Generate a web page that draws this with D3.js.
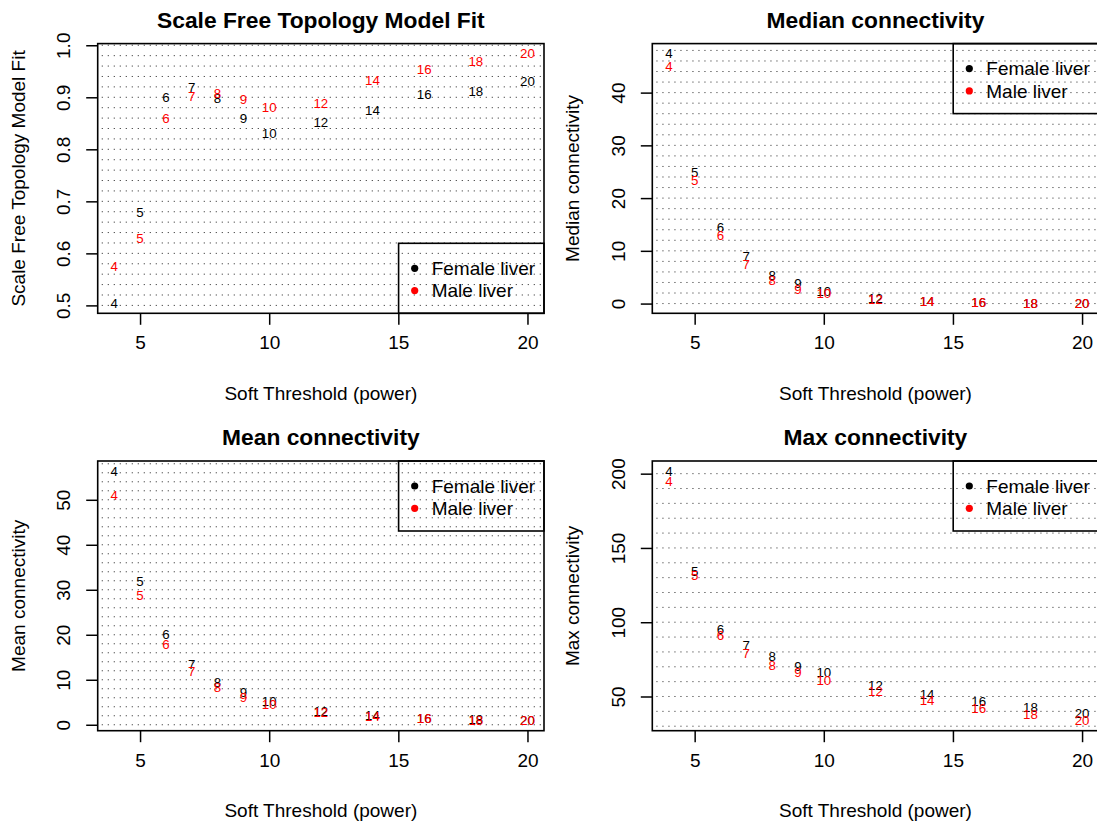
<!DOCTYPE html>
<html>
<head>
<meta charset="utf-8">
<script src="https://cdn.jsdelivr.net/npm/d3@7"></script>
<style>
  body { margin: 0; background: #fff; }
  text { font-family: "Liberation Sans", Arial, Helvetica, sans-serif; }
</style>
</head>
<body>
<script>
var powers = [4, 5, 6, 7, 8, 9, 10, 12, 14, 16, 18, 20];
var xTicks = [5, 10, 15, 20];
var seriesNames = ["Female liver", "Male liver"];
var seriesColors = ["#000000", "#ff0000"];

var fitFemale = [0.504, 0.68, 0.901, 0.920, 0.899, 0.859, 0.831, 0.852, 0.875, 0.906, 0.912, 0.931];
var fitMale = [0.576, 0.630, 0.860, 0.902, 0.908, 0.896, 0.881, 0.889, 0.932, 0.954, 0.970, 0.984];
var fitTicks = [0.5, 0.6, 0.7, 0.8, 0.9, 1.0];

var medianFemale = [47.4, 25.0, 14.4, 8.9, 5.4, 3.8, 2.4, 1.1, 0.5, 0.25, 0.12, 0.06];
var medianMale = [45.0, 23.4, 12.9, 7.5, 4.4, 2.8, 1.9, 0.9, 0.45, 0.2, 0.1, 0.05];
var medianTicks = [0, 10, 20, 30, 40];

var meanFemale = [56.4, 31.9, 20.1, 13.5, 9.4, 7.2, 5.3, 3.1, 2.2, 1.5, 1.2, 1.0];
var meanMale = [51.0, 28.9, 18.0, 12.0, 8.3, 6.1, 4.5, 2.8, 2.0, 1.35, 1.05, 0.9];
var meanTicks = [0, 10, 20, 30, 40, 50];

var maxFemale = [201.8, 134.3, 95.5, 84.6, 76.9, 70.6, 66.1, 57.9, 51.8, 46.8, 42.8, 38.9];
var maxMale = [195.1, 131.6, 91.2, 79.2, 71.3, 66.3, 60.9, 53.6, 47.5, 41.9, 37.8, 33.7];
var maxTicks = [50, 100, 150, 200];

var svg = d3.select("body")
  .append("svg")
  .attr("width", 1097)
  .attr("height", 825);

svg.append("rect").attr("width", 1097).attr("height", 825).attr("fill", "#fff");

// R style axis range: data range padded by 4% on each side
function rRange(vals) {
  var lo = d3.min(vals), hi = d3.max(vals);
  var pad = (hi - lo) * 0.04;
  return [lo - pad, hi + pad];
}

function drawPanel(opt) {
  var left = opt.left, top = opt.top, w = 446.3, h = 269.7;
  var g = svg.append("g");

  var x = d3.scaleLinear().domain(rRange(powers)).range([left, left + w]);
  var y = d3.scaleLinear().domain(rRange(opt.female.concat(opt.male))).range([top + h, top]);

  // dotted horizontal grid
  var yd = y.domain();
  var gridVals = d3.range(Math.ceil(yd[0] / opt.step - 1e-9), Math.floor(yd[1] / opt.step + 1e-9) + 1)
    .map(function(k) { return k * opt.step; });
  g.selectAll("line.grid")
    .data(gridVals)
    .enter()
    .append("line")
    .attr("x1", left + 4)
    .attr("x2", left + w)
    .attr("y1", function(d) { return y(d); })
    .attr("y2", function(d) { return y(d); })
    .attr("stroke", "#555")
    .attr("stroke-width", 1)
    .attr("stroke-dasharray", "1.3,4.7");

  // axes
  var xAxis = g.append("g")
    .attr("transform", "translate(0," + (top + h) + ")")
    .call(d3.axisBottom(x).tickValues(xTicks).tickSize(11.5).tickPadding(11).tickSizeOuter(0));
  xAxis.select(".domain").remove();
  xAxis.selectAll("line").attr("stroke-width", 1.5);
  xAxis.selectAll("text").attr("font-size", 19).attr("fill", "#000");

  var yAxis = g.append("g")
    .attr("transform", "translate(" + left + ",0)")
    .call(d3.axisLeft(y).tickValues(opt.ticks).tickSize(11.5).tickSizeOuter(0).tickFormat(opt.fmt));
  yAxis.select(".domain").remove();
  yAxis.selectAll("line").attr("stroke-width", 1.5);
  yAxis.selectAll("text")
    .attr("font-size", 19)
    .attr("fill", "#000")
    .attr("x", null)
    .attr("dy", null)
    .attr("text-anchor", "middle")
    .attr("transform", "translate(-34.3,0) rotate(-90)")
    .attr("dy", "0.35em");

  // legend
  var lw = 145.4, lh = 70;
  var lx = left + w - lw;
  var ly = opt.legend === "bottomright" ? top + h - lh : top;
  g.append("rect")
    .attr("x", lx).attr("y", ly).attr("width", lw).attr("height", lh)
    .attr("fill", "none").attr("stroke", "#000").attr("stroke-width", 1.6);
  var items = g.selectAll("g.leg")
    .data(seriesNames)
    .enter()
    .append("g")
    .attr("transform", function(d, i) { return "translate(" + lx + "," + (ly + 25 + i * 22.3) + ")"; });
  items.append("circle").attr("cx", 16.1).attr("cy", 0).attr("r", 3.6)
    .attr("fill", function(d, i) { return seriesColors[i]; });
  items.append("text").attr("x", 33.1).attr("dy", "0.35em")
    .attr("font-size", 19).attr("fill", "#000")
    .text(function(d) { return d; });

  // labelled points
  [opt.female, opt.male].forEach(function(vals, s) {
    g.selectAll("text.pt" + s)
      .data(vals)
      .enter()
      .append("text")
      .attr("x", function(d, i) { return x(powers[i]); })
      .attr("y", function(d) { return y(d); })
      .attr("dy", "0.36em")
      .attr("text-anchor", "middle")
      .attr("font-size", 13.3)
      .attr("fill", seriesColors[s])
      .text(function(d, i) { return powers[i]; });
  });

  // plot box
  g.append("rect")
    .attr("x", left).attr("y", top).attr("width", w).attr("height", h)
    .attr("fill", "none").attr("stroke", "#000").attr("stroke-width", 1.6);

  // titles
  g.append("text")
    .attr("x", left + w / 2).attr("y", top - 23.6).attr("dy", "0.35em")
    .attr("text-anchor", "middle").attr("font-size", 22.8).attr("font-weight", "bold")
    .text(opt.title);
  g.append("text")
    .attr("x", left + w / 2).attr("y", top + h + 80).attr("dy", "0.35em")
    .attr("text-anchor", "middle").attr("font-size", 19)
    .text("Soft Threshold (power)");
  g.append("text")
    .attr("transform", "translate(" + (left - 79.7) + "," + (top + h / 2) + ") rotate(-90)")
    .attr("dy", "0.35em")
    .attr("text-anchor", "middle").attr("font-size", 19)
    .text(opt.ylab);
}

drawPanel({ left: 97.7, top: 43.6, female: fitFemale, male: fitMale, ticks: fitTicks, step: 0.02,
  fmt: d3.format(".1f"), legend: "bottomright",
  title: "Scale Free Topology Model Fit", ylab: "Scale Free Topology Model Fit" });
drawPanel({ left: 652.3, top: 43.6, female: medianFemale, male: medianMale, ticks: medianTicks, step: 2,
  fmt: d3.format("d"), legend: "topright",
  title: "Median connectivity", ylab: "Median connectivity" });
drawPanel({ left: 97.7, top: 461, female: meanFemale, male: meanMale, ticks: meanTicks, step: 2,
  fmt: d3.format("d"), legend: "topright",
  title: "Mean connectivity", ylab: "Mean connectivity" });
drawPanel({ left: 652.3, top: 461, female: maxFemale, male: maxMale, ticks: maxTicks, step: 10,
  fmt: d3.format("d"), legend: "topright",
  title: "Max connectivity", ylab: "Max connectivity" });
</script>
</body>
</html>
